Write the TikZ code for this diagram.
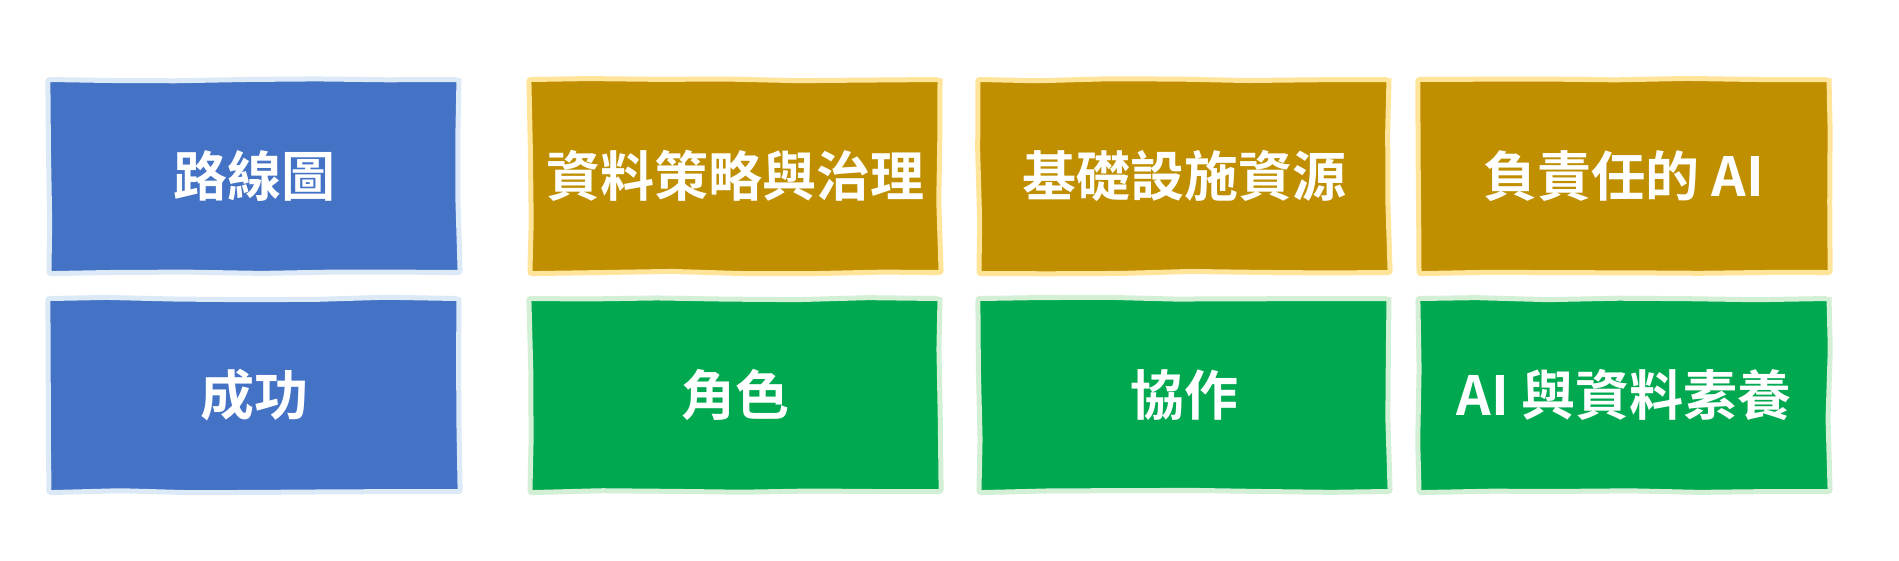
\documentclass[tikz,border=0pt]{standalone}
\usepackage{fontspec}
\newfontfamily\cjk{Noto Sans CJK TC Bold}
\usetikzlibrary{decorations.pathmorphing}
\definecolor{bluefill}{HTML}{4472C4}
\definecolor{blueedge}{HTML}{DCEAF8}
\definecolor{goldfill}{HTML}{BF8F00}
\definecolor{goldedge}{HTML}{FFE49A}
\definecolor{greenfill}{HTML}{00A94F}
\definecolor{greenedge}{HTML}{D3F0D6}
\tikzset{
  card/.style={rectangle, inner sep=0pt, minimum width=410pt, minimum height=193pt,
    line width=5pt, text=white,
    font=\cjk\fontsize{54pt}{60pt}\selectfont,
    decorate, decoration={random steps, segment length=70pt, amplitude=1.3pt},
    rounded corners=2pt},
  bluecard/.style={card, fill=bluefill, draw=blueedge},
  goldcard/.style={card, fill=goldfill, draw=goldedge},
  greencard/.style={card, fill=greenfill, draw=greenedge}
}
\begin{document}
\begin{tikzpicture}[x=1pt,y=-1pt]
\pgfmathsetseed{7}
\useasboundingbox[fill=white] (0,0) rectangle (1899,560);
\node[bluecard]  (roadmap)  at (254,176) {路線圖};
\node[goldcard]  (datagov)  at (735,176) {資料策略與治理};
\node[goldcard]  (infra)    at (1184,176) {基礎設施資源};
\node[goldcard]  (respai)   at (1624,176) {負責任的 AI};
\node[bluecard]  (success)  at (254,395) {成功};
\node[greencard] (roles)    at (735,395) {角色};
\node[greencard] (collab)   at (1184,395) {協作};
\node[greencard] (literacy) at (1624,395) {AI 與資料素養};
\end{tikzpicture}
\end{document}
